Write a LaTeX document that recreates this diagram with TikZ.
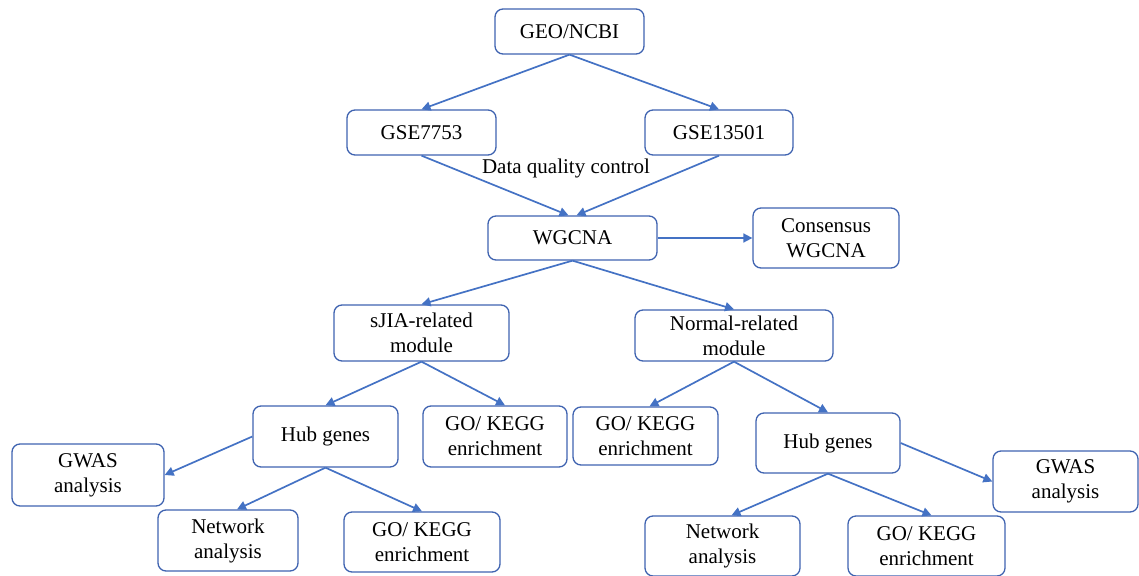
\documentclass[tikz,border=0pt]{standalone}
\usepackage{fontspec}
\setmainfont{Liberation Serif}
\usetikzlibrary{arrows.meta}
\definecolor{flowblue}{HTML}{4472C4}
\definecolor{boxblue}{HTML}{3F63B0}

\begin{document}
\begin{tikzpicture}[x=1pt, y=-1pt,
    box/.style={draw=boxblue, line width=1.3pt, rounded corners=8pt, align=center, inner sep=0pt, font=\fontsize{21}{25}\selectfont, text=black},
    link/.style={draw=flowblue, line width=1.7pt, -{Triangle[length=9pt,width=9pt]}}]
    \useasboundingbox (0,0) rectangle (1139,575);
    % data source
    \node[box, minimum width=149pt, minimum height=45pt] (geo) at (569.5,31.5) {GEO/NCBI};
    % datasets
    \node[box, minimum width=149pt, minimum height=45pt] (gse1) at (421.5,132.5) {GSE7753};
    \node[box, minimum width=148pt, minimum height=45pt] (gse2) at (719,132.5) {GSE13501};
    % quality control label
    \node[font=\fontsize{21}{25}\selectfont, text=black] (dqc) at (566,168) {Data quality control};
    % network construction
    \node[box, minimum width=169pt, minimum height=44pt] (wgcna) at (572.5,238) {WGCNA};
    \node[box, minimum width=146pt, minimum height=60pt] (cons) at (826,238) {Consensus\\WGCNA};
    % modules
    \node[box, minimum width=175pt, minimum height=56pt] (sjia) at (421.5,333) {sJIA-related\\module};
    \node[box, minimum width=198pt, minimum height=51pt] (normal) at (734,335.5) {Normal-related\\module};
    % left branch
    \node[box, minimum width=145pt, minimum height=61pt] (hubL) at (325.5,436.5) {Hub genes};
    \node[box, minimum width=144pt, minimum height=61pt] (goA) at (495,436.5) {GO/ KEGG\\enrichment};
    \node[box, minimum width=152pt, minimum height=62pt] (gwasL) at (88,475) {GWAS\\analysis};
    \node[box, minimum width=140pt, minimum height=61pt] (netL) at (228,540.5) {Network\\analysis};
    \node[box, minimum width=156pt, minimum height=60pt] (goB) at (422,542) {GO/ KEGG\\enrichment};
    % right branch
    \node[box, minimum width=145pt, minimum height=58pt] (goC) at (645.5,436) {GO/ KEGG\\enrichment};
    \node[box, minimum width=144pt, minimum height=60pt] (hubR) at (828,443) {Hub genes};
    \node[box, minimum width=145pt, minimum height=61pt] (gwasR) at (1065.5,481.5) {GWAS\\analysis};
    \node[box, minimum width=155pt, minimum height=60pt] (netR) at (722.5,546) {Network\\analysis};
    \node[box, minimum width=157pt, minimum height=60pt] (goD) at (926.5,546) {GO/ KEGG\\enrichment};
    % arrows
    \draw[link] (geo.south) -- (gse1.north);
    \draw[link] (geo.south) -- (gse2.north);
    \draw[link] (gse1.south) -- ([xshift=-4pt]wgcna.north);
    \draw[link] (gse2.south) -- ([xshift=4pt]wgcna.north);
    \draw[link] (wgcna.east) -- (cons.west);
    \draw[link] (wgcna.south) -- (sjia.north);
    \draw[link] (wgcna.south) -- (normal.north);
    \draw[link] (sjia.south) -- (hubL.north);
    \draw[link] (sjia.south) -- ([xshift=10pt]goA.north);
    \draw[link] (hubL.west) -- (gwasL.east);
    \draw[link] (hubL.south) -- ([xshift=9pt]netL.north);
    \draw[link] (hubL.south) -- (goB.north);
    \draw[link] (normal.south) -- ([xshift=4pt]goC.north);
    \draw[link] (normal.south) -- (hubR.north);
    \draw[link] (hubR.east) -- (gwasR.west);
    \draw[link] (hubR.south) -- ([xshift=9pt]netR.north);
    \draw[link] (hubR.south) -- ([xshift=5pt]goD.north);
\end{tikzpicture}
\end{document}
